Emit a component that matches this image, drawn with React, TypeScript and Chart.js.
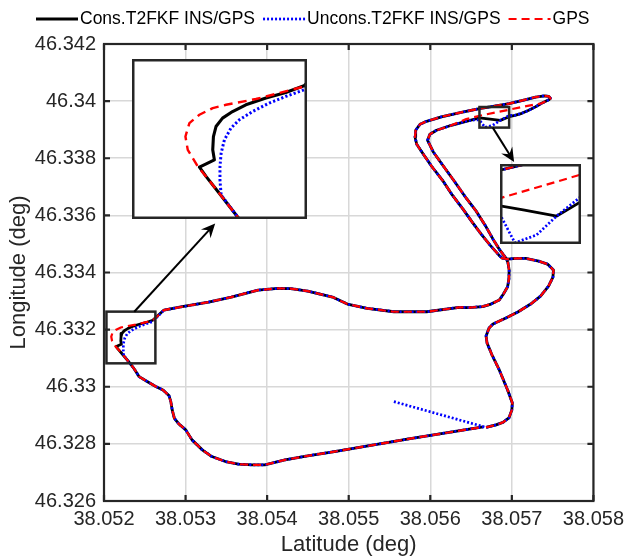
import React, { useEffect, useRef } from "react";
import { Chart, registerables } from "chart.js";

Chart.register(...registerables);

type LatLon = [number, number];

// ---------- axes ----------
const latLimits = [38.052, 38.058];
const lonLimits = [46.326, 46.342];
const latStep = 0.001;
const lonStep = 0.002;
const seriesLabels = ["Cons.T2FKF INS/GPS", "Uncons.T2FKF INS/GPS", "GPS"];
const xTitle = "Latitude (deg)";
const yTitle = "Longitude (deg)";

// ---------- trajectory segments [lat, lon] ----------
// east side going north, loop, outer leg of the north-east spur up to its tip
const loopAndOuterLeg: LatLon[] = [
  [38.056684, 46.328577], [38.056806, 46.328664], [38.056891, 46.328752], [38.056964, 46.328909],
  [38.057, 46.329189], [38.057006, 46.329434], [38.056948, 46.329888], [38.056846, 46.330587],
  [38.056757, 46.331112], [38.056696, 46.331531], [38.056684, 46.331776], [38.056721, 46.332056],
  [38.056769, 46.332196], [38.056927, 46.332406], [38.057073, 46.332615], [38.057231, 46.332895],
  [38.057352, 46.333175], [38.05745, 46.333525], [38.057504, 46.333839], [38.05751, 46.334084],
  [38.057437, 46.334294], [38.057328, 46.334399], [38.05717, 46.334493], [38.057049, 46.334493],
  [38.056951, 46.334469], [38.056879, 46.334504],
  [38.056842, 46.334608], [38.056733, 46.334958], [38.056624, 46.335343], [38.056514, 46.335762],
  [38.056401, 46.336217], [38.056271, 46.336706], [38.056158, 46.337196], [38.056016, 46.33772],
  [38.055907, 46.338175], [38.055834, 46.33849], [38.055813, 46.338745], [38.055821, 46.338979],
  [38.055874, 46.339189], [38.055955, 46.339294], [38.056137, 46.339451], [38.05638, 46.339608],
  [38.056603, 46.339738], [38.056806, 46.339836], [38.056967, 46.339913], [38.057134, 46.340028],
  [38.057292, 46.340143], [38.057401, 46.340185], [38.057453, 46.340168], [38.057474, 46.340098],
  [38.057453, 46.340045], [38.057365, 46.339923],
];

// return leg of the spur (where the three solutions differ)
const lowerLegCons: LatLon[] = [
  [38.057292, 46.339801], [38.057207, 46.339678], [38.057122, 46.339573], [38.057037, 46.339504],
  [38.056967, 46.339455], [38.056858, 46.339325], [38.056707, 46.339381], [38.056603, 46.339416],
  [38.056441, 46.339294],
];
const lowerLegUncons: LatLon[] = [
  [38.057292, 46.339801], [38.057207, 46.339678], [38.057122, 46.339573], [38.057037, 46.339504],
  [38.056967, 46.3395], [38.056858, 46.339325], [38.056767, 46.339154], [38.05667, 46.339084],
  [38.056603, 46.339339], [38.056538, 46.339346], [38.056441, 46.339294],
];
const lowerLegGps: LatLon[] = [
  [38.057292, 46.339888], [38.057134, 46.339801], [38.056964, 46.339697], [38.056603, 46.339486],
  [38.056441, 46.339371],
];

// inner leg of the spur back south, then middle road westwards
const returnLeg: LatLon[] = [
  [38.056259, 46.339154], [38.056077, 46.338979], [38.055995, 46.338839], [38.055967, 46.338629],
  [38.056037, 46.33822], [38.056162, 46.33772], [38.056295, 46.337196], [38.056441, 46.336601],
  [38.056563, 46.336147], [38.056672, 46.335657], [38.056769, 46.335168], [38.056854, 46.334783],
  [38.056927, 46.334504], [38.056951, 46.334364], [38.056967, 46.334084], [38.056964, 46.333769],
  [38.056948, 46.3335], [38.056897, 46.333245], [38.056846, 46.333035], [38.056745, 46.332895],
  [38.056644, 46.332808], [38.056478, 46.332773], [38.056356, 46.33278], [38.055955, 46.332626],
  [38.055554, 46.332626], [38.055226, 46.332745], [38.054983, 46.332895], [38.054801, 46.33314],
  [38.054497, 46.33335], [38.05429, 46.333437], [38.054132, 46.333444], [38.053889, 46.333385],
  [38.053561, 46.33314], [38.053282, 46.332965], [38.052958, 46.332801], [38.052735, 46.332685],
];

// west corner (where the three solutions differ)
const westCornerCons: LatLon[] = [
  [38.052597, 46.332327], [38.052519, 46.332251], [38.052434, 46.332188], [38.052348, 46.332112],
  [38.052291, 46.332036], [38.052248, 46.331961], [38.05222, 46.331866], [38.052209, 46.331753],
  [38.052206, 46.331602], [38.052213, 46.331489], [38.052178, 46.331443], [38.052149, 46.331406],
  [38.052178, 46.331299], [38.052234, 46.331111], [38.052317, 46.330828],
];
const westCornerUncons: LatLon[] = [
  [38.052597, 46.332282], [38.052519, 46.332206], [38.052448, 46.332131], [38.052377, 46.332036],
  [38.05232, 46.331942], [38.052284, 46.331848], [38.052256, 46.331715], [38.052242, 46.331565],
  [38.052237, 46.331413], [38.052237, 46.331262], [38.052242, 46.331092], [38.052317, 46.330828],
];
const westCornerGps: LatLon[] = [
  [38.052597, 46.332319], [38.052491, 46.332245], [38.052391, 46.332177], [38.052263, 46.332112],
  [38.052206, 46.332075], [38.052149, 46.331999], [38.052106, 46.331905], [38.052089, 46.331753],
  [38.052099, 46.331602], [38.052142, 46.331413], [38.052178, 46.331299], [38.052234, 46.331111],
  [38.052317, 46.330828],
];

// west side down and southern road eastwards
const southRoad: LatLon[] = [
  [38.052371, 46.330622], [38.052431, 46.330353], [38.052529, 46.330185], [38.052634, 46.330011],
  [38.052723, 46.329888], [38.052796, 46.329696], [38.05282, 46.329469], [38.052836, 46.329189],
  [38.052863, 46.328892], [38.052917, 46.328699], [38.053002, 46.32849], [38.053079, 46.32814],
  [38.053205, 46.32779], [38.053322, 46.327556], [38.053489, 46.327381], [38.053646, 46.32729],
  [38.053813, 46.327266], [38.053971, 46.327266], [38.054218, 46.32744], [38.054497, 46.327581],
  [38.054825, 46.327731], [38.055129, 46.327878], [38.055433, 46.328025], [38.055736, 46.328175],
  [38.05604, 46.328315], [38.056344, 46.328455], [38.056648, 46.328594],
];

// unconstrained filter initial convergence
const unconsInit: LatLon[] = [[38.055554, 46.329479]];

// zoom boxes [latMin, latMax, lonMin, lonMax]
const westBox = [38.05203, 38.05263, 46.33082, 46.33263];
const spurBox = [38.056603, 38.056967, 46.339073, 46.339794];
// inset view ranges [latMin, latMax, lonMin, lonMax]
const westInsetView = [38.05186, 38.05261, 46.33082, 46.33263];
const spurInsetView = [38.056603, 38.056967, 46.339073, 46.339794];
// arrows [fromLat, fromLon, toLat, toLon]
const westArrow = [38.052371, 46.332626, 38.053363, 46.335717];
const spurArrow = [38.056766, 46.339073, 38.057028, 46.337871];

const consTrack = [...loopAndOuterLeg, ...lowerLegCons, ...returnLeg, ...westCornerCons, ...southRoad];
const unconsTrack = [...unconsInit, ...loopAndOuterLeg, ...lowerLegUncons, ...returnLeg, ...westCornerUncons, ...southRoad];
const gpsTrack = [...loopAndOuterLeg, ...lowerLegGps, ...returnLeg, ...westCornerGps, ...southRoad];

const FONT = '"Liberation Sans", Arial, Helvetica, sans-serif';
const INK = "#262626";

const toXY = (arr: LatLon[]) => arr.map(([x, y]) => ({ x, y }));

function makeDatasets(scale: number) {
  return [
    {
      label: seriesLabels[2], data: toXY(gpsTrack), borderColor: "#ff0000",
      borderWidth: 2.2 * scale, borderDash: [8 * scale, 5 * scale], order: 0,
    },
    {
      label: seriesLabels[1], data: toXY(unconsTrack), borderColor: "#0000ff",
      borderWidth: 2.7 * scale, borderDash: [2 * scale, 2 * scale], order: 1,
    },
    {
      label: seriesLabels[0], data: toXY(consTrack), borderColor: "#000000",
      borderWidth: 2.8 * scale, borderDash: [], order: 2,
    },
  ].map((d) => ({
    ...d, showLine: true, pointRadius: 0, pointHoverRadius: 0, fill: false, tension: 0,
    borderCapStyle: "butt" as const, borderJoinStyle: "round" as const,
  }));
}

const fmt = (v: number | string) => String(parseFloat(Number(v).toFixed(3)));

function drawArrow(ctx: CanvasRenderingContext2D, x1: number, y1: number, x2: number, y2: number) {
  const a = Math.atan2(y2 - y1, x2 - x1);
  const head = 14, half = 6.5;
  const c = Math.cos(a), s = Math.sin(a);
  const bx = x2 - head * c, by = y2 - head * s;
  ctx.beginPath();
  ctx.moveTo(x1, y1);
  ctx.lineTo(x2 - head * 0.6 * c, y2 - head * 0.6 * s);
  ctx.stroke();
  ctx.beginPath();
  ctx.moveTo(x2, y2);
  ctx.lineTo(bx + half * s, by - half * c);
  ctx.lineTo(x2 - head * 0.65 * c, y2 - head * 0.65 * s);
  ctx.lineTo(bx - half * s, by + half * c);
  ctx.closePath();
  ctx.fill();
}

const mainDecor = {
  id: "mainDecor",
  afterDatasetsDraw(chart: any) {
    const { ctx, chartArea: a, scales } = chart;
    const x = scales.x, y = scales.y;
    ctx.save();
    ctx.strokeStyle = INK;
    ctx.lineWidth = 2.2;
    ctx.setLineDash([]);
    // ticks inside on all sides
    ctx.beginPath();
    x.ticks.forEach((t: any) => {
      const px = x.getPixelForValue(t.value);
      ctx.moveTo(px, a.bottom); ctx.lineTo(px, a.bottom - 6);
      ctx.moveTo(px, a.top); ctx.lineTo(px, a.top + 6);
    });
    y.ticks.forEach((t: any) => {
      const py = y.getPixelForValue(t.value);
      ctx.moveTo(a.left, py); ctx.lineTo(a.left + 6, py);
      ctx.moveTo(a.right, py); ctx.lineTo(a.right - 6, py);
    });
    ctx.stroke();
    ctx.strokeRect(a.left, a.top, a.right - a.left, a.bottom - a.top);
    // zoom boxes
    ctx.lineWidth = 2.5;
    [westBox, spurBox].forEach((b) => {
      const l = x.getPixelForValue(b[0]), r = x.getPixelForValue(b[1]);
      const t = y.getPixelForValue(b[3]), bt = y.getPixelForValue(b[2]);
      ctx.strokeRect(l, t, r - l, bt - t);
    });
    // arrows
    ctx.strokeStyle = "#000";
    ctx.fillStyle = "#000";
    ctx.lineWidth = 2;
    [westArrow, spurArrow].forEach((ar) => {
      drawArrow(ctx, x.getPixelForValue(ar[0]), y.getPixelForValue(ar[1]),
        x.getPixelForValue(ar[2]), y.getPixelForValue(ar[3]));
    });
    ctx.restore();
  },
  afterDraw(chart: any) {
    const { ctx } = chart;
    const ds = chart.data.datasets;
    const items = [ds[2], ds[1], ds[0]];
    ctx.save();
    ctx.font = `17.5px ${FONT}`;
    ctx.textBaseline = "middle";
    ctx.fillStyle = "#000";
    let xx = 36;
    const yy = 19;
    items.forEach((d: any) => {
      ctx.strokeStyle = d.borderColor;
      ctx.lineWidth = d.borderWidth;
      ctx.setLineDash(d.borderDash || []);
      ctx.beginPath();
      ctx.moveTo(xx, yy); ctx.lineTo(xx + 42, yy);
      ctx.stroke();
      xx += 44;
      ctx.fillText(d.label, xx, yy);
      xx += ctx.measureText(d.label).width + 8;
    });
    ctx.restore();
  },
};

function mainConfig(): any {
  return {
    type: "scatter",
    data: { datasets: makeDatasets(1) },
    options: {
      responsive: false,
      animation: false,
      events: [],
      layout: { padding: { top: 44, right: 32, left: 0, bottom: 0 } },
      plugins: { legend: { display: false }, tooltip: { enabled: false } },
      scales: {
        x: {
          type: "linear", min: latLimits[0], max: latLimits[1],
          ticks: { stepSize: latStep, callback: fmt, color: INK, font: { size: 20, family: FONT }, padding: 6, maxRotation: 0, autoSkip: false },
          grid: { color: "#d8d8d8", lineWidth: 1.5, drawTicks: false },
          border: { display: false },
          title: { display: true, text: xTitle, color: INK, font: { size: 22, family: FONT, lineHeight: 1 }, padding: { top: 0, bottom: 0 } },
          afterFit: (s: any) => { s.height = 55; },
        },
        y: {
          type: "linear", min: lonLimits[0], max: lonLimits[1],
          ticks: { stepSize: lonStep, callback: fmt, color: INK, font: { size: 20, family: FONT }, padding: 8, autoSkip: false },
          grid: { color: "#d8d8d8", lineWidth: 1.5, drawTicks: false },
          border: { display: false },
          title: { display: true, text: yTitle, color: INK, font: { size: 22, family: FONT, lineHeight: 1 }, padding: { top: 8, bottom: 0 } },
          afterFit: (s: any) => { s.width = 104; },
        },
      },
    },
    plugins: [mainDecor],
  };
}

const insetFrame = {
  id: "insetFrame",
  beforeDraw(chart: any) {
    const { ctx, width, height } = chart;
    ctx.save();
    ctx.fillStyle = "#fff";
    ctx.fillRect(0, 0, width, height);
    ctx.restore();
  },
  afterDraw(chart: any) {
    const { ctx, width, height } = chart;
    ctx.save();
    ctx.strokeStyle = INK;
    ctx.lineWidth = 2.5;
    ctx.setLineDash([]);
    ctx.strokeRect(1.25, 1.25, width - 2.5, height - 2.5);
    ctx.restore();
  },
};

function insetConfig(view: number[], scale: number): any {
  return {
    type: "scatter",
    data: { datasets: makeDatasets(scale) },
    options: {
      responsive: false,
      animation: false,
      events: [],
      layout: { padding: 0 },
      plugins: { legend: { display: false }, tooltip: { enabled: false } },
      scales: {
        x: { type: "linear", display: false, min: view[0], max: view[1] },
        y: { type: "linear", display: false, min: view[2], max: view[3] },
      },
    },
    plugins: [insetFrame],
  };
}

export default function App() {
  const mainRef = useRef<HTMLCanvasElement>(null);
  const westRef = useRef<HTMLCanvasElement>(null);
  const spurRef = useRef<HTMLCanvasElement>(null);

  useEffect(() => {
    const charts: Chart[] = [];
    if (mainRef.current) charts.push(new Chart(mainRef.current, mainConfig()));
    if (westRef.current) charts.push(new Chart(westRef.current, insetConfig(westInsetView, 1.1)));
    if (spurRef.current) charts.push(new Chart(spurRef.current, insetConfig(spurInsetView, 1.0)));
    return () => charts.forEach((c) => c.destroy());
  }, []);

  return (
    <div style={{ position: "absolute", left: 0, top: 0, width: 630, height: 556, background: "#fff" }}>
      <canvas ref={mainRef} width={630} height={556} style={{ position: "absolute", left: 0, top: 0, width: 630, height: 556 }} />
      <canvas ref={westRef} width={175} height={160} style={{ position: "absolute", left: 132, top: 59, width: 175, height: 160 }} />
      <canvas ref={spurRef} width={81} height={80} style={{ position: "absolute", left: 500, top: 164, width: 81, height: 80 }} />
    </div>
  );
}
